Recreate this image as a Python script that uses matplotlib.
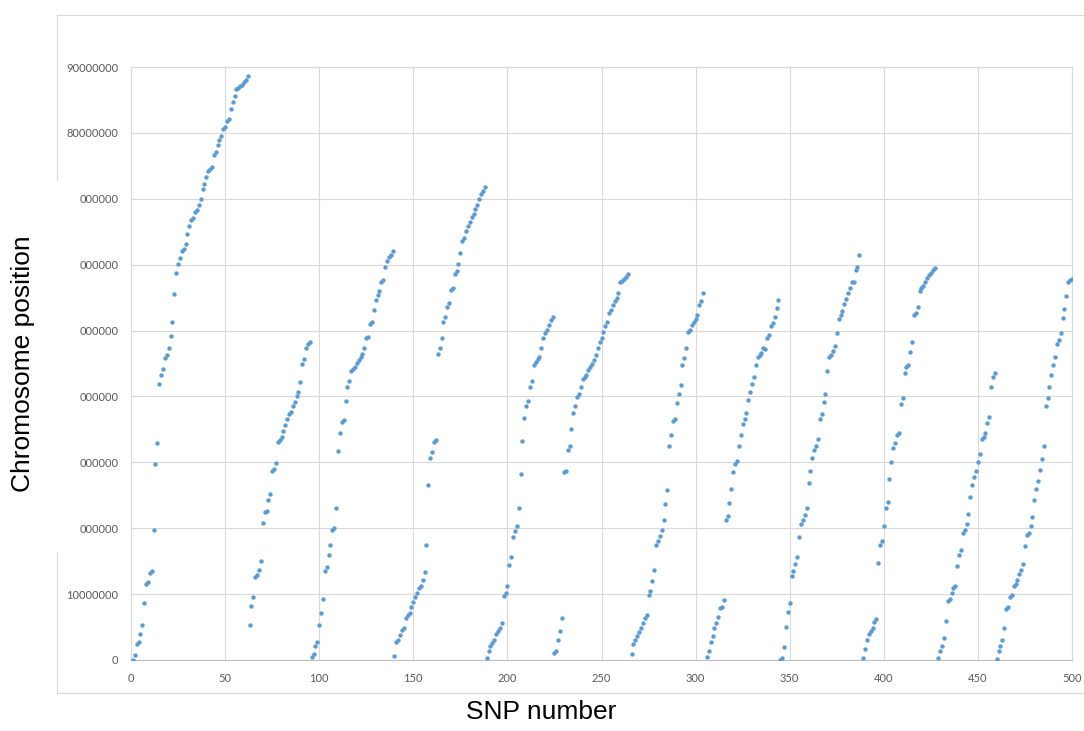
import numpy as np
import matplotlib
matplotlib.use("Agg")
import matplotlib.pyplot as plt
from matplotlib.lines import Line2D

# chromosome position (Mb) of consecutive SNPs, one list per chromosome
chr1 = [0.0, 0.8, 2.5, 2.8, 4.0, 5.3, 8.6, 11.6, 11.8, 13.2, 13.5, 19.7, 29.7, 32.9, 41.9,
        43.3, 44.2, 45.9, 46.3, 47.3, 49.2, 51.3, 55.5, 58.8, 60.1, 61.0, 62.1, 62.4, 63.1,
        64.7, 65.8, 66.8, 67.1, 68.0, 68.3, 69.0, 69.9, 71.5, 72.3, 73.3, 74.2, 74.5, 74.8,
        76.6, 77.1, 78.2, 78.9, 79.6, 80.6, 80.9, 81.8, 82.1, 83.6, 84.7, 85.6, 86.6, 86.8,
        87.1, 87.3, 87.7, 88.0, 88.6]
chr2 = [5.3, 8.2, 9.6, 12.6, 12.9, 13.7, 15.0, 20.8, 22.4, 22.6, 24.3, 25.2, 28.7, 29.0,
        29.9, 33.1, 33.4, 33.9, 34.8, 35.7, 36.6, 37.3, 37.6, 38.6, 39.2, 40.1, 40.7, 42.2,
        45.0, 45.7, 47.4, 47.9, 48.3]
chr3 = [0.5, 0.9, 2.2, 2.8, 5.3, 7.2, 9.2, 13.5, 14.1, 16.0, 17.5, 19.8, 20.1, 23.1, 31.7,
        34.4, 36.1, 36.4, 39.3, 41.5, 42.3, 43.9, 44.2, 44.5, 45.1, 45.5, 46.0, 46.4, 47.4,
        48.8, 49.0, 51.0, 51.3, 53.1, 54.7, 55.4, 56.0, 57.4, 57.7, 59.6, 60.5, 61.1, 61.5,
        62.0]
chr4 = [0.6, 2.8, 3.1, 3.8, 4.6, 4.9, 6.3, 6.9, 7.2, 8.1, 8.8, 9.6, 10.2, 10.9, 11.3, 12.2,
        13.4, 17.5, 26.6, 30.7, 31.6, 33.1, 33.4]
chr5 = [46.4, 47.3, 48.9, 51.3, 52.1, 53.6, 54.2, 56.1, 56.5, 58.6, 59.0, 60.1, 61.7, 63.6,
        64.1, 65.1, 65.8, 66.4, 67.2, 67.7, 68.4, 69.0, 69.9, 70.8, 71.2, 71.8]
chr6 = [0.3, 1.4, 2.1, 2.6, 3.1, 3.9, 4.4, 4.8, 5.6, 9.7, 10.2, 11.2, 14.4, 15.7, 18.7,
        19.6, 20.3, 23.0, 28.2, 33.2, 36.8, 38.6, 39.3, 41.4, 42.3, 44.7, 45.3, 45.7, 46.0,
        47.4, 48.8, 49.6, 50.1, 50.8, 51.6, 52.0]
chr7 = [1.1, 1.4, 3.1, 4.4, 6.3]
chr8 = [28.5, 28.7, 31.8, 32.5, 35.0, 37.5, 38.6, 39.9, 40.4, 41.4, 42.7, 42.9, 43.3, 44.0,
        44.5, 44.9, 45.5, 46.3, 47.3, 48.3, 48.9, 49.8, 50.7, 51.3, 52.7, 53.1, 53.9, 54.5,
        54.9, 55.7, 57.3, 57.5, 57.8, 58.1, 58.6]
chr9 = [0.9, 2.5, 3.1, 3.7, 4.3, 4.8, 5.6, 6.3, 6.9, 9.9, 10.5, 12.0, 13.6, 17.5, 18.1,
        18.8, 19.8, 21.3, 23.7, 25.8, 32.5, 34.2, 36.3, 36.6, 39.0, 40.4, 41.7, 44.8, 45.8,
        47.3, 49.8, 50.1, 50.8, 51.3, 51.7, 52.3, 53.9, 54.5, 55.7]
chr10 = [0.5, 1.4, 2.8, 3.7, 4.9, 5.6, 6.6, 7.9, 8.1, 9.1, 21.3, 21.9, 23.8, 26.0, 28.5,
         29.8, 30.2, 32.5, 34.2, 35.8, 36.6, 37.5, 39.5, 40.6, 41.9, 42.9, 44.8, 46.0, 46.3,
         46.6, 47.4, 47.2, 48.8, 49.4, 50.7, 51.1, 52.1, 53.4, 54.7]
chr11 = [0.0, 0.3, 1.9, 5.0, 7.3, 8.7, 12.7, 13.5, 14.6, 15.7, 18.7, 20.6, 21.3, 22.0, 23.1,
         26.8, 28.7, 30.7, 31.9, 32.5, 33.6, 36.6, 37.3, 39.2, 40.3, 43.9, 46.0, 46.3, 46.9,
         47.6, 49.6, 51.7, 52.4, 53.0, 54.0, 54.8, 55.7, 56.5, 57.3, 57.4, 59.2, 59.6, 61.5]
chr12 = [0.3, 1.6, 3.1, 3.9, 4.4, 4.9, 5.8, 6.2, 14.7, 17.5, 18.1, 20.3, 23.1, 24.0, 27.5,
         30.1, 32.2, 32.9, 34.2, 34.4, 38.8, 39.8, 43.6, 44.5, 44.8, 46.7, 48.3, 52.3, 52.7,
         53.6, 56.0, 56.5, 56.8, 57.4, 58.0, 58.4, 58.8, 59.2, 59.5]
chr13 = [0.3, 1.4, 2.1, 3.4, 5.9, 9.0, 9.3, 10.2, 10.9, 11.3, 14.2, 16.0, 16.7, 19.3, 19.8,
         20.7, 22.2, 24.8, 26.6, 27.8, 28.7, 30.1, 31.2, 33.5, 33.9, 34.5, 36.0, 36.9, 41.4,
         43.0, 43.5]
chr14 = [0.2, 1.4, 2.1, 3.1, 4.9, 7.8, 8.1, 9.5, 9.9, 11.2, 11.6, 12.2, 13.1, 13.7, 14.6,
         17.3, 19.0, 19.3, 20.4, 21.7, 24.3, 26.0, 27.2, 28.9, 30.5, 32.5, 38.5, 39.8, 41.4,
         43.2, 44.8, 46.0, 48.0, 48.6, 49.7, 51.9, 53.3, 55.3, 57.4, 57.6, 57.8]

segments = [chr1, chr2, chr3, chr4, chr5, chr6, chr7, chr8, chr9, chr10, chr11, chr12,
            chr13, chr14]
seg_starts = [1, 63, 96, 140, 163, 189, 225, 230, 266, 306, 345, 389, 429, 460]

x_ticks = list(range(0, 501, 50))
y_ticks = list(range(0, 90000001, 10000000))
y_labels = ['0', '10000000', '000000', '000000', '000000', '000000', '000000', '000000',
            '80000000', '90000000']

snp = np.concatenate([np.arange(s, s + len(v)) for s, v in zip(seg_starts, segments)])
pos = np.concatenate([np.array(v) for v in segments]) * 1e6

W, H = 1084, 731
fig = plt.figure(figsize=(W / 100, H / 100), dpi=100)
ax = fig.add_axes([131 / W, 1 - 660 / H, 941 / W, 593 / H])

ax.scatter(snp, pos, s=10, color='#5b9bd5', linewidths=0, zorder=3)

ax.set_xlim(0, 500)
ax.set_ylim(0, 90000000)
ax.set_xticks(x_ticks)
ax.set_yticks(y_ticks)
ax.set_yticklabels(y_labels)
ax.tick_params(length=0, labelsize=8, colors='#595959', pad=9)
for lab in ax.get_xticklabels() + ax.get_yticklabels():
    lab.set_family('Lato')
ax.grid(color='#d9d9d9', linewidth=0.8)
ax.set_axisbelow(True)
for sp in ax.spines.values():
    sp.set_color('#d9d9d9')
    sp.set_linewidth(0.8)
ax.spines['bottom'].set_color('#bfbfbf')

# outer chart frame, left side broken where the labels were cut
frame = [((57, 14.5), (57, 180)), ((57, 553), (57, 692.5)),
         ((57, 14.5), (1084, 14.5)), ((57, 692.5), (1084, 692.5))]
for (x0, y0), (x1, y1) in frame:
    fig.add_artist(Line2D([x0 / W, x1 / W], [1 - y0 / H, 1 - y1 / H],
                          transform=fig.transFigure, color='#d9d9d9', lw=0.8))

fig.text(23 / W, 1 - 364 / H, 'Chromosome position', rotation=90, ha='center',
         va='center', fontsize=19, family='Liberation Sans')
fig.text(541 / W, 1 - 712 / H, 'SNP number', ha='center', va='center', fontsize=19,
         family='Liberation Sans')

fig.savefig('out.png', dpi=100)
